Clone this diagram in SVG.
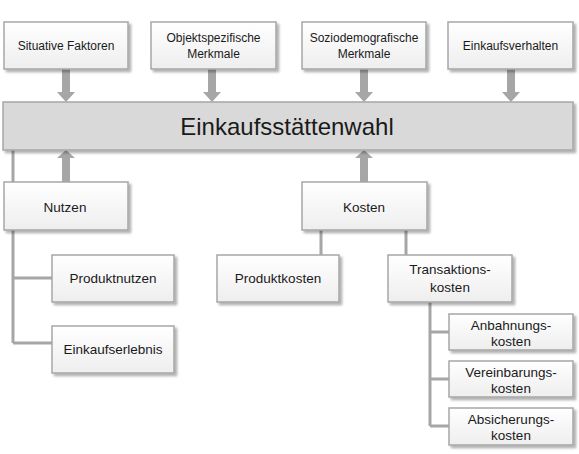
<svg xmlns="http://www.w3.org/2000/svg" width="579" height="454" viewBox="0 0 579 454">
<style>
.box{fill:url(#g);stroke:#a6a6a6;stroke-width:1.5;filter:url(#sh)}
.bar{fill:#d9d9d9;stroke:#a6a6a6;stroke-width:1.5;filter:url(#sh)}
.t{font-family:"Liberation Sans",Arial,sans-serif;font-size:12px;fill:#1a1a1a;text-anchor:middle}
.tl{font-family:"Liberation Sans",Arial,sans-serif;font-size:13.5px;fill:#1a1a1a;text-anchor:middle}
.title{font-family:"Liberation Sans",Arial,sans-serif;font-size:24px;fill:#1a1a1a;text-anchor:middle}
.ln{stroke:#a6a6a6;stroke-width:3;fill:none}
.ar{fill:#a6a6a6}
</style>
<defs>
<linearGradient id="g" x1="0" y1="0" x2="0" y2="1">
<stop offset="0" stop-color="#ffffff"/>
<stop offset="1" stop-color="#eeeeee"/>
</linearGradient>
<filter id="sh" x="-10%" y="-20%" width="130%" height="150%">
<feDropShadow dx="2.5" dy="2.5" stdDeviation="1" flood-color="#000" flood-opacity="0.3"/>
</filter>
<path id="down" d="M-4,0 H4 V23 H9 L0,33 L-9,23 H-4 Z"/>
</defs>
<g id="connectors">
<path class="ln" d="M13,150 V343 M13,278 H52 M13,343 H52"/>
<path class="ln" d="M321,230 V255 M406,230 V255"/>
<path class="ln" d="M430,302 V426 M430,332 H449 M430,379 H449 M430,426 H449"/>
<use href="#down" class="ar" x="66" y="69"/>
<use href="#down" class="ar" x="212" y="69"/>
<use href="#down" class="ar" x="364" y="69"/>
<use href="#down" class="ar" x="511" y="69"/>
<path class="ar" d="M62,182 V158 H57 L66,150 L75,158 H70 V182 Z"/>
<path class="ar" d="M360,182 V158 H355 L364,150 L373,158 H368 V182 Z"/>
</g>
<g id="situative"><rect class="box" x="4" y="22" width="124" height="47"/><text class="t" x="66" y="50">Situative Faktoren</text></g>
<g id="objekt"><rect class="box" x="151" y="22" width="125" height="47"/><text class="t" x="213.5" y="42">Objektspezifische</text><text class="t" x="213.5" y="58">Merkmale</text></g>
<g id="sozio"><rect class="box" x="302" y="22" width="124" height="47"/><text class="t" x="364" y="42">Soziodemografische</text><text class="t" x="364" y="58">Merkmale</text></g>
<g id="einkaufsverhalten"><rect class="box" x="448" y="22" width="125" height="47"/><text class="t" x="510.5" y="50">Einkaufsverhalten</text></g>
<g id="wahl"><rect class="bar" x="3" y="102" width="570" height="48"/><text class="title" x="287" y="135">Einkaufsstättenwahl</text></g>
<g id="nutzen"><rect class="box" x="4" y="182" width="124" height="48"/><text class="tl" x="65" y="212">Nutzen</text></g>
<g id="produktnutzen"><rect class="box" x="52" y="255" width="122" height="47"/><text class="tl" x="113" y="283">Produktnutzen</text></g>
<g id="einkaufserlebnis"><rect class="box" x="52" y="326" width="122" height="47"/><text class="tl" x="113" y="354">Einkaufserlebnis</text></g>
<g id="kosten"><rect class="box" x="302" y="182" width="125" height="48"/><text class="tl" x="364" y="212">Kosten</text></g>
<g id="produktkosten"><rect class="box" x="217" y="255" width="122" height="47"/><text class="tl" x="278" y="283">Produktkosten</text></g>
<g id="transaktionskosten"><rect class="box" x="388" y="255" width="124" height="47"/><text class="tl" x="450" y="274">Transaktions-</text><text class="tl" x="450" y="292">kosten</text></g>
<g id="anbahnung"><rect class="box" x="449" y="314" width="124" height="36"/><text class="tl" x="511" y="330">Anbahnungs-</text><text class="tl" x="511" y="346">kosten</text></g>
<g id="vereinbarung"><rect class="box" x="449" y="361" width="124" height="36"/><text class="tl" x="511" y="377">Vereinbarungs-</text><text class="tl" x="511" y="393">kosten</text></g>
<g id="absicherung"><rect class="box" x="449" y="408" width="124" height="37"/><text class="tl" x="511" y="424">Absicherungs-</text><text class="tl" x="511" y="440">kosten</text></g>
</svg>
